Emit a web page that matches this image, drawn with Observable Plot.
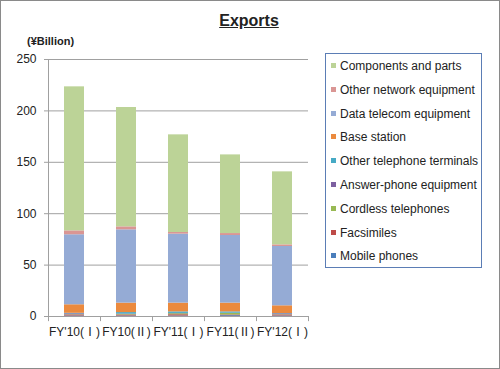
<!DOCTYPE html>
<html>
<head>
<meta charset="utf-8">
<script src="https://cdn.jsdelivr.net/npm/d3@7"></script>
<script src="https://cdn.jsdelivr.net/npm/@observablehq/plot@0.6"></script>
<style>
  html, body { margin: 0; padding: 0; background: #fff; }
  #wrap { position: relative; width: 498px; height: 367px; border: 1px solid #8a8a8a; overflow: hidden;
          font-family: "Liberation Sans", Arial, sans-serif; color: #222; background: #fff; }
  #title { position: absolute; left: 0; width: 496px; top: 11px; text-align: center; font-weight: bold;
           font-size: 16px; text-decoration: underline; }
  #unit { position: absolute; left: 26px; top: 34px; font-weight: bold; font-size: 11px; }
  #chart { position: absolute; left: -1px; top: -1px; }
  #legend { position: absolute; left: 324px; top: 52px; width: 155px; height: 213px; border: 1px solid #5B7DB5; }
  .item { position: absolute; left: 14px; font-size: 12px; white-space: nowrap; line-height: 14px; }
  .sw { position: absolute; left: -9px; top: 4px; width: 5px; height: 5px; }
</style>
</head>
<body>
<div id="wrap">
  <div id="title">Exports</div>
  <div id="unit">(¥Billion)</div>
  <div id="chart"></div>
  <div id="legend"></div>
</div>
<script>
const categories = ["FY'10(Ⅰ)", "FY10(Ⅱ)", "FY'11(Ⅰ)", "FY11(Ⅱ)", "FY'12(Ⅰ)"];
const seriesNames = ["Mobile phones", "Facsimiles", "Cordless telephones", "Answer-phone equipment",
  "Other telephone terminals", "Base station", "Data telecom equipment", "Other network equipment",
  "Components and parts"];
const seriesColors = ["#4A7EBB", "#BE4B48", "#98B954", "#7D60A0", "#46AAC5", "#EB8A3E", "#95ABD5", "#DA9694", "#BCD397"];
const mobilePhones        = [0.5, 0.5, 0.5, 0.8, 0.5];
const facsimiles          = [1.0, 1.0, 1.2, 0.7, 1.0];
const cordlessTelephones  = [0.3, 0.5, 1.0, 1.5, 0.3];
const answerPhone         = [0.8, 0.3, 0.3, 0.2, 0.8];
const otherTelTerminals   = [0.5, 1.5, 1.5, 1.3, 0.3];
const baseStation         = [8.3, 9.2, 8.5, 8.5, 7.5];
const dataTelecom         = [68.1, 71.3, 67.1, 65.8, 57.7];
const otherNetwork        = [3.8, 2.9, 1.6, 1.9, 1.6];
const components          = [140.1, 116.1, 95.0, 76.5, 71.0];
const yTicks = [0, 50, 100, 150, 200, 250];

const seriesValues = [mobilePhones, facsimiles, cordlessTelephones, answerPhone, otherTelTerminals,
  baseStation, dataTelecom, otherNetwork, components];

const rows = [];
seriesNames.forEach((s, si) => {
  categories.forEach((c, ci) => rows.push({cat: c, series: s, value: seriesValues[si][ci]}));
});

const step = 52;
const plot = Plot.plot({
  width: 321,
  height: 370,
  marginLeft: 48,
  marginRight: 13,
  marginTop: 59,
  marginBottom: 54,
  style: {fontFamily: "'Liberation Sans', 'Noto Sans CJK JP', Arial, sans-serif", fontSize: "12px", color: "#222", background: "transparent"},
  x: {domain: categories, paddingInner: 0.615, paddingOuter: 0.3075, label: null},
  y: {domain: [0, 250], label: null},
  color: {domain: seriesNames, range: seriesColors},
  marks: [
    Plot.ruleY(yTicks, {stroke: "#A0A0A0", strokeWidth: 1}),
    Plot.barY(rows, Plot.stackY({x: "cat", y: "value", fill: "series", order: null})),
    Plot.ruleX([categories[0]], {x: d => d, dx: -step / 2, y1: () => 0, y2: () => 250, stroke: "#A0A0A0"}),
    Plot.ruleX(categories, {x: d => d, dx: -step / 2, y1: () => 0, y2: () => -5, stroke: "#A0A0A0"}),
    Plot.ruleX([categories[categories.length - 1]], {x: d => d, dx: step / 2, y1: () => 0, y2: () => -5, stroke: "#A0A0A0"}),
    Plot.axisY({ticks: yTicks, tickSize: 4, tickPadding: 8, stroke: "#A0A0A0", fontSize: 12, fill: "#222"}),
    Plot.axisX({tickSize: 0, tickPadding: 11, fontSize: 12, fill: "#222"})
  ]
});
document.getElementById("chart").appendChild(plot);

const legend = document.getElementById("legend");
const order = seriesNames.slice().reverse();
const colorsRev = seriesColors.slice().reverse();
order.forEach((name, i) => {
  const div = document.createElement("div");
  div.className = "item";
  div.style.top = (5 + i * 23.8) + "px";
  const sw = document.createElement("span");
  sw.className = "sw";
  sw.style.background = colorsRev[i];
  div.appendChild(sw);
  div.appendChild(document.createTextNode(name));
  legend.appendChild(div);
});
</script>
</body>
</html>
